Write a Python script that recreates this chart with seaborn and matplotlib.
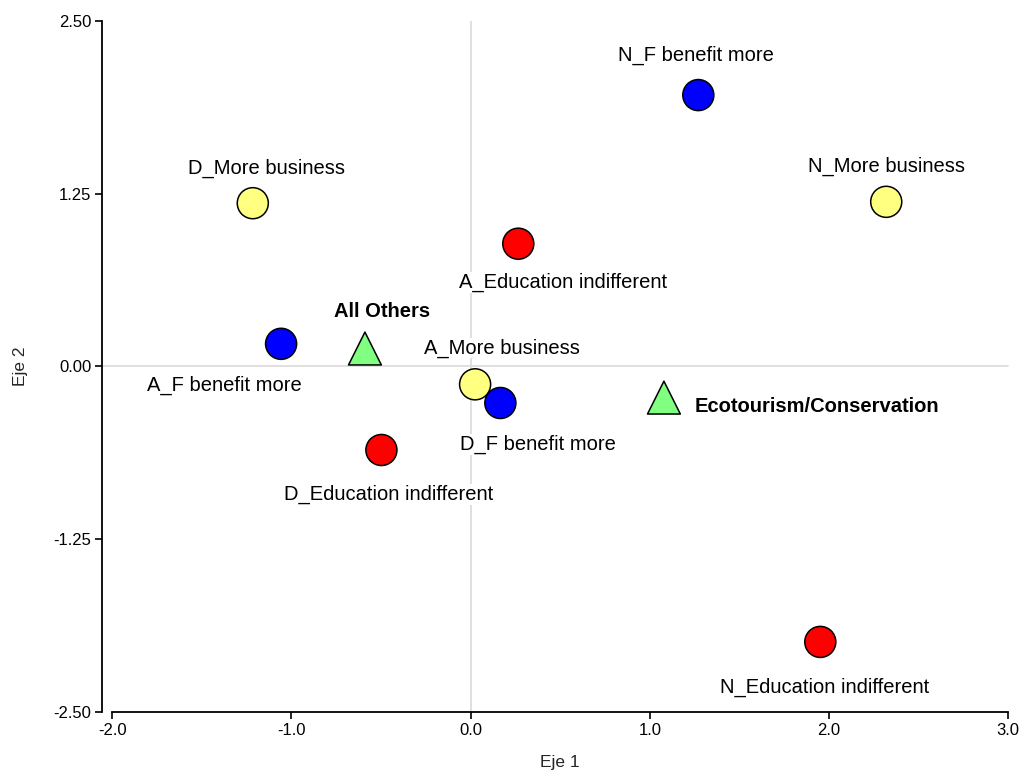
import matplotlib
matplotlib.use("Agg")
import matplotlib.pyplot as plt
import seaborn as sns
import pandas as pd

# Category coordinates on the first two axes
labels = [
    "D_More business", "N_F benefit more", "N_More business",
    "A_Education indifferent", "A_F benefit more", "A_More business",
    "D_F benefit more", "D_Education indifferent", "N_Education indifferent",
    "All Others", "Ecotourism/Conservation",
]
eje1 = [-1.216, 1.271, 2.32, 0.266, -1.058, 0.025, 0.166, -0.498, 1.952, -0.59, 1.079]
eje2 = [1.18, 1.962, 1.19, 0.887, 0.163, -0.13, -0.265, -0.605, -1.993, 0.129, -0.226]
group = ["business", "benefit", "business", "education", "benefit", "business",
         "benefit", "education", "education", "activity", "activity"]

x_ticks = [-2.0, -1.0, 0.0, 1.0, 2.0, 3.0]
y_ticks = [-2.50, -1.25, 0.00, 1.25, 2.50]

palette = {"business": "#FFFF80", "benefit": "#0000FF",
           "education": "#FF0000", "activity": "#80FF80"}

# label placement (offset in px from the mark, horizontal alignment, bold)
px = 0.72
label_style = {
    "D_More business": (14, 29, "center", False),
    "N_F benefit more": (-2, 34, "center", False),
    "N_More business": (0, 30, "center", False),
    "A_Education indifferent": (45, -44, "center", False),
    "A_F benefit more": (-57, -47, "center", False),
    "A_More business": (27, 31, "center", False),
    "D_F benefit more": (38, -47, "center", False),
    "D_Education indifferent": (7, -50, "center", False),
    "N_Education indifferent": (4, -51, "center", False),
    "All Others": (17, 31.5, "center", True),
    "Ecotourism/Conservation": (31, -14, "left", True),
}

df = pd.DataFrame({"label": labels, "eje1": eje1, "eje2": eje2, "group": group})

sns.set_style("white")
plt.rcParams["font.family"] = ["Liberation Sans", "DejaVu Sans"]

fig = plt.figure(figsize=(10.26, 7.72), dpi=100)
ax = fig.add_axes([0.1095, 0.0777, 0.873, 0.8955])

ax.axvline(0, color="#DDDDDD", lw=1.3, zorder=0)
ax.axhline(0, xmin=-0.012, xmax=1.0, color="#DDDDDD", lw=1.3, zorder=0, clip_on=False)

circ = df[df["group"] != "activity"]
tri = df[df["group"] == "activity"]
sns.scatterplot(data=circ, x="eje1", y="eje2", hue="group", palette=palette,
                marker="o", s=500, edgecolor="black", linewidth=1.1,
                legend=False, ax=ax, zorder=3)
sns.scatterplot(data=tri, x="eje1", y="eje2", hue="group", palette=palette,
                marker="^", s=560, edgecolor="black", linewidth=1.1,
                legend=False, ax=ax, zorder=3)

for lab, x, y in zip(labels, eje1, eje2):
    dx, dy, ha, bold = label_style[lab]
    ax.annotate(lab, (x, y), xytext=(dx * px, dy * px), textcoords="offset points",
                ha=ha, va="baseline", fontsize=14.5,
                fontweight="bold" if bold else "normal", color="black",
                bbox=dict(facecolor="white", edgecolor="none", pad=0.5), zorder=2)

ax.set_xlim(-2.0, 3.0)
ax.set_ylim(-2.5, 2.5)
ax.set_xticks(x_ticks)
ax.set_xticklabels([f"{v:.1f}" for v in x_ticks])
ax.set_yticks(y_ticks)
ax.set_yticklabels([f"{v:.2f}" for v in y_ticks])

for s in ["top", "right"]:
    ax.spines[s].set_visible(False)
for s in ["left", "bottom"]:
    ax.spines[s].set_color("black")
    ax.spines[s].set_linewidth(1.3)
ax.spines["left"].set_position(("outward", 7.2))

ax.tick_params(axis="both", direction="out", length=5, width=1.2, color="black",
               labelsize=12, labelcolor="black", pad=3, left=True, bottom=True)

ax.set_xlabel("Eje 1", fontsize=12.5, labelpad=12)
ax.set_ylabel("Eje 2", fontsize=12.5, labelpad=18)

fig.savefig("out.png", dpi=100)
